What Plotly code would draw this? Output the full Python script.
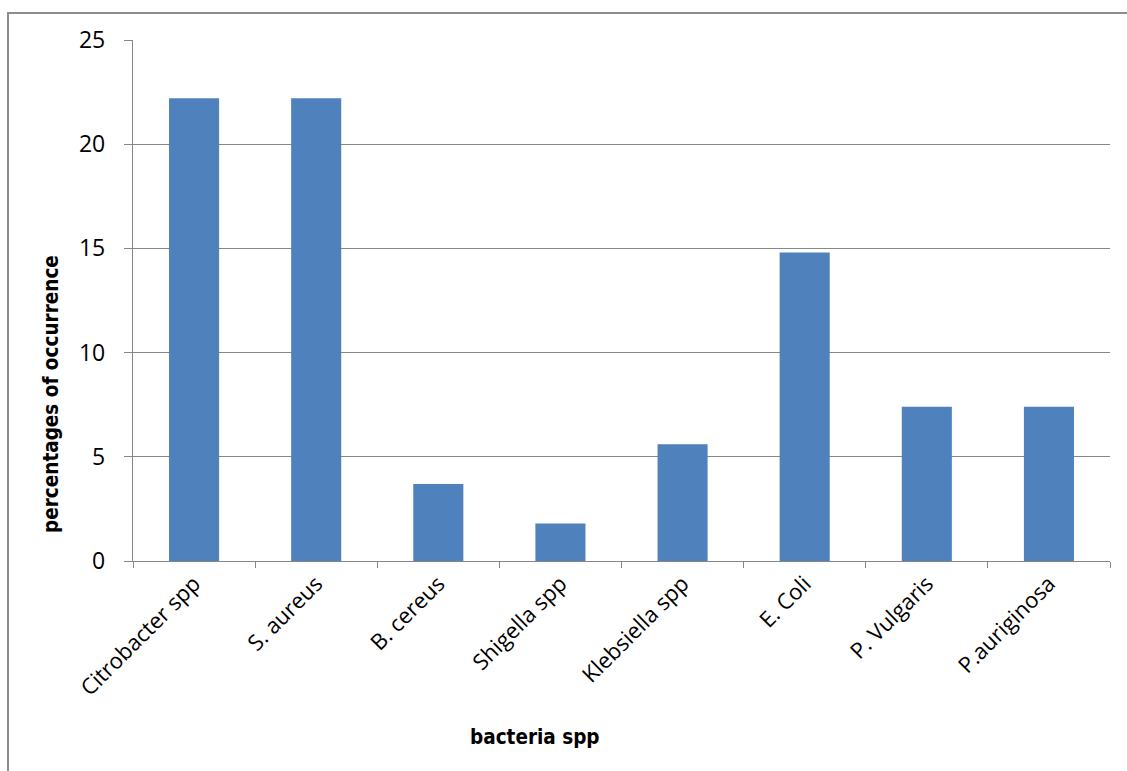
import plotly.graph_objects as go

categories = ["Citrobacter spp", "S. aureus", "B. cereus", "Shigella spp",
              "Klebsiella spp", "E. Coli", "P. Vulgaris", "P.auriginosa"]
values = [22.2, 22.2, 3.7, 1.8, 5.6, 14.8, 7.4, 7.4]
y_ticks = [0, 5, 10, 15, 20, 25]

W, H = 1127, 771
L, R, T, B = 133, 17, 40, 210
pw, ph = W - L - R, H - T - B

fig = go.Figure(go.Bar(x=categories, y=values, marker_color="#4F81BD",
                       marker_line_width=0))

grid = "#878787"
fig.update_layout(
    width=W, height=H,
    margin=dict(l=L, r=R, t=T, b=B, pad=0),
    paper_bgcolor="white", plot_bgcolor="white",
    bargap=0.59, showlegend=False,
    font=dict(family="Open Sans", color="black"),
)
fig.update_yaxes(range=[0, 25], tickvals=y_ticks, showgrid=True, gridcolor=grid,
                 gridwidth=1.3, showline=True, linecolor=grid, linewidth=1.3,
                 ticks="outside", ticklen=8, tickcolor=grid, tickwidth=1.3,
                 ticklabelstandoff=14,
                 tickfont=dict(size=23, family="Open Sans"), zeroline=False)
fig.update_xaxes(showline=True, linecolor=grid, linewidth=1.3, tickangle=-45,
                 ticks="outside", tickson="boundaries", ticklen=6, tickcolor=grid,
                 tickwidth=1.3, tickfont=dict(size=22, family="Open Sans"),
                 showgrid=False)

def px_x(x):
    return (x - L) / pw

def px_y(y):
    return (H - B - y) / ph

fig.add_shape(type="rect", xref="paper", yref="paper",
              x0=px_x(8), y0=px_y(13), x1=px_x(1140), y1=px_y(790),
              line=dict(color="#8c8c8c", width=2), fillcolor="rgba(0,0,0,0)",
              layer="below")
fig.add_annotation(text="<b>bacteria spp</b>", xref="paper", yref="paper",
                   x=px_x(535), y=px_y(737), xanchor="center", yanchor="middle",
                   showarrow=False,
                   font=dict(size=20.5, family="DejaVu Sans Condensed"))
fig.add_annotation(text="<b>percentages of occurrence</b>", xref="paper", yref="paper",
                   x=px_x(51), y=px_y(394), xanchor="center", yanchor="middle",
                   showarrow=False, textangle=-90,
                   font=dict(size=20.5, family="DejaVu Sans Condensed"))

fig.write_html("out.html")
